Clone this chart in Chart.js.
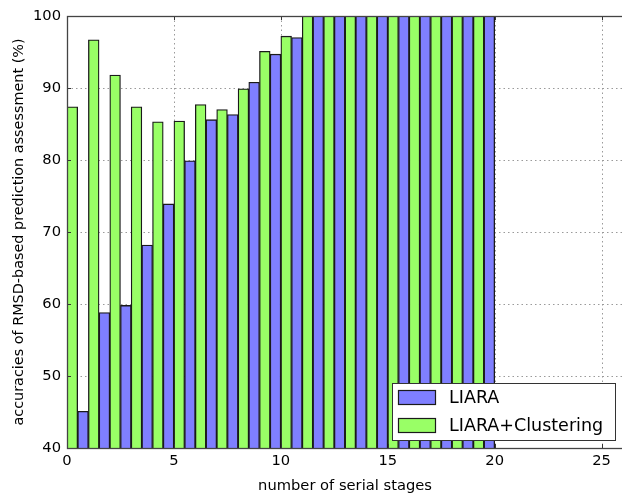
<!DOCTYPE html>
<html>
<head>
<meta charset="utf-8">
<script src="https://cdn.jsdelivr.net/npm/chart.js@4"></script>
<style>
html,body{margin:0;padding:0;background:#fff;overflow:hidden;}
#wrap{width:626px;height:495px;}
</style>
</head>
<body>
<div id="wrap"><canvas id="c" width="626" height="495"></canvas></div>
<script>
const stages = [0,1,2,3,4,5,6,7,8,9,10,11,12,13,14,15,16,17,18,19];
const liara = [45.1,58.8,59.8,68.2,73.9,79.9,85.6,86.3,90.8,94.7,97.0,100,100,100,100,100,100,100,100,100];
const clustering = [87.4,96.7,91.8,87.4,85.3,85.4,87.7,87.0,89.9,95.1,97.2,100,100,100,100,100,100,100,100,100];
const seriesLabels = ['LIARA','LIARA+Clustering'];
const xTicks = [0,5,10,15,20,25];
const yTicks = [40,50,60,70,80,90,100];

const FONT = "'DejaVu Sans', sans-serif";
const blue = '#7f7fff', green = '#99ff66', edge = '#1a1a1a';

const gridPlugin = {
  id: 'gridPlugin',
  beforeDatasetsDraw(chart) {
    const ctx = chart.ctx, a = chart.chartArea;
    const xs = chart.scales.x, ys = chart.scales.y;
    ctx.save();
    ctx.strokeStyle = '#9a9a9a'; ctx.lineWidth = 1; ctx.setLineDash([1.5, 3]);
    xTicks.forEach(v => {
      const px = Math.round(xs.getPixelForValue(v)) + 0.5;
      ctx.beginPath(); ctx.moveTo(px, a.top); ctx.lineTo(px, a.bottom); ctx.stroke();
    });
    yTicks.forEach(v => {
      const py = Math.round(ys.getPixelForValue(v)) + 0.5;
      ctx.beginPath(); ctx.moveTo(a.left, py); ctx.lineTo(a.right, py); ctx.stroke();
    });
    ctx.restore();
  }
};

const frameLegend = {
  id: 'frameLegend',
  afterDraw(chart) {
    const ctx = chart.ctx, a = chart.chartArea;
    ctx.save();
    ctx.strokeStyle = '#333'; ctx.lineWidth = 1;
    const xs = chart.scales.x, ys = chart.scales.y;
    xTicks.forEach(v => {
      const px = Math.round(xs.getPixelForValue(v)) + 0.5;
      ctx.beginPath(); ctx.moveTo(px, a.bottom); ctx.lineTo(px, a.bottom - 4);
      ctx.moveTo(px, a.top); ctx.lineTo(px, a.top + 4); ctx.stroke();
    });
    yTicks.forEach(v => {
      const py = Math.round(ys.getPixelForValue(v)) + 0.5;
      ctx.beginPath(); ctx.moveTo(a.left, py); ctx.lineTo(a.left + 4, py); ctx.stroke();
    });
    ctx.strokeStyle = '#444'; ctx.lineWidth = 1.3;
    ctx.strokeRect(Math.round(a.left)+0.5, Math.round(a.top)+0.5, Math.round(a.right-a.left), Math.round(a.bottom-a.top));
    const lx = 392, ly = 383, lw = 223, lh = 57;
    ctx.fillStyle = '#fff'; ctx.fillRect(lx, ly, lw, lh);
    ctx.strokeStyle = '#333'; ctx.lineWidth = 1;
    ctx.strokeRect(lx+0.5, ly+0.5, lw, lh);
    const ds = chart.data.datasets;
    ctx.font = '17.5px ' + FONT;
    ctx.textBaseline = 'middle';
    ds.forEach((d, i) => {
      const cy = ly + 14 + i * 28;
      ctx.fillStyle = d.backgroundColor;
      ctx.fillRect(398, cy - 7, 37, 14);
      ctx.strokeStyle = edge; ctx.lineWidth = 1.2;
      ctx.strokeRect(398.5, cy - 6.5, 37, 14);
      ctx.fillStyle = '#000';
      ctx.fillText(d.label, 449, cy + 1);
    });
    ctx.restore();
  }
};

new Chart(document.getElementById('c'), {
  type: 'bar',
  data: {
    datasets: [
      { label: seriesLabels[0], data: stages.map((s,i)=>({x: s+0.75, y: liara[i]})),
        backgroundColor: blue, borderColor: edge, borderWidth: 1.3, borderSkipped: false },
      { label: seriesLabels[1], data: stages.map((s,i)=>({x: s+0.25, y: clustering[i]})),
        backgroundColor: green, borderColor: edge, borderWidth: 1.3, borderSkipped: false }
    ]
  },
  options: {
    responsive: false,
    animation: false,
    devicePixelRatio: 1,
    datasets: { bar: { grouped: false, barPercentage: 1, categoryPercentage: 1 } },
    layout: { padding: { top: 16, right: 3, left: 0, bottom: 0 } },
    plugins: { legend: { display: false }, tooltip: { enabled: false } },
    scales: {
      x: {
        type: 'linear', min: 0, max: 26, offset: false,
        afterBuildTicks: s => { s.ticks = xTicks.map(v => ({value: v})); },
        afterFit: s => { s.height = 47; },
        grid: { display: false, drawTicks: false },
        border: { display: false },
        ticks: { color: '#000', font: { family: FONT, size: 14.7 }, padding: 4, maxRotation: 0 },
        title: { display: true, text: 'number of serial stages', color: '#000', font: { family: FONT, size: 14.7 }, padding: { top: 4, bottom: 0 } }
      },
      y: {
        min: 40, max: 100,
        afterBuildTicks: s => { s.ticks = yTicks.map(v => ({value: v})); },
        afterFit: s => { s.width = 67; },
        grid: { display: false, drawTicks: false },
        border: { display: false },
        ticks: { color: '#000', font: { family: FONT, size: 14.7 }, padding: 6 },
        title: { display: true, text: 'accuracies of RMSD-based prediction assessment (%)', color: '#000', font: { family: FONT, size: 14.4 }, padding: { top: 11, bottom: 0 } }
      }
    }
  },
  plugins: [gridPlugin, frameLegend]
});
</script>
</body>
</html>
